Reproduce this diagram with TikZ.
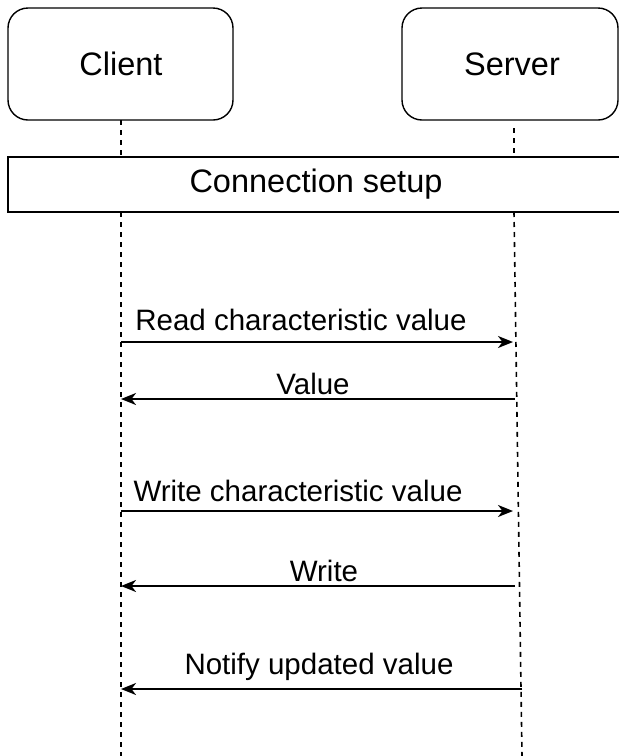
\documentclass[tikz,border=0pt]{standalone}
\usepackage{fontspec}
\setmainfont{Liberation Sans}
\usetikzlibrary{arrows.meta}
\begin{document}
\begin{tikzpicture}[x=1pt,y=-1pt,
  actor/.style={draw,rounded corners=20pt,line width=1.4pt},
  big/.style={font=\fontsize{32.5}{38}\selectfont},
  life/.style={dash pattern=on 5pt off 5pt,line width=1.6pt},
  msg/.style={line width=2pt,-{Stealth[length=15pt,width=12pt,inset=4.5pt]}},
  lbl/.style={font=\fontsize{29.5}{34}\selectfont,inner sep=0pt}]
\useasboundingbox (0,0) rectangle (619,756);
\fill[white] (0,0) rectangle (619,756);
% actors
\draw[actor] (8,8) rectangle (233,120);
\node[big] (client) at (121,64) {Client};
\draw[actor] (402,8) rectangle (618,120);
\node[big] (server) at (512,64) {Server};
% connection setup bar
\draw[line width=1.4pt] (630,157) -- (8,157) -- (8,212) -- (630,212);
\node[big] (setup) at (316,184) {Connection setup};
% lifeline coordinates
\coordinate (c0) at (121,120);
\coordinate (c1) at (121,157);
\coordinate (c2) at (121,212);
\coordinate (c3) at (121,756);
\coordinate (s0) at (514,128);
\coordinate (s1) at (514,157);
\coordinate (s2) at (514,212);
\coordinate (s3) at (522,756);
\draw[life] (c0) -- (c1);
\draw[life] (c2) -- (c3);
\draw[life] (s0) -- (s1);
\draw[life] (s2) -- (s3);
% message end points
\coordinate (r1a) at (121,342); \coordinate (r1b) at (513,342);
\coordinate (r2a) at (515,399); \coordinate (r2b) at (121,399);
\coordinate (w1a) at (121,511); \coordinate (w1b) at (513,511);
\coordinate (w2a) at (515,586); \coordinate (w2b) at (121,586);
\coordinate (n1a) at (522,689); \coordinate (n1b) at (121,689);
\draw[msg] (r1a) -- (r1b);
\draw[msg] (r2a) -- (r2b);
\draw[msg] (w1a) -- (w1b);
\draw[msg] (w2a) -- (w2b);
\draw[msg] (n1a) -- (n1b);
% labels
\node[lbl] (lr1) at (301,320) {Read characteristic value};
\node[lbl] (lr2) at (313,384) {Value};
\node[lbl] (lw1) at (298,491) {Write characteristic value};
\node[lbl] (lw2) at (324,571) {Write};
\node[lbl] (ln1) at (319,667) {Notify updated value};
\end{tikzpicture}
\end{document}
